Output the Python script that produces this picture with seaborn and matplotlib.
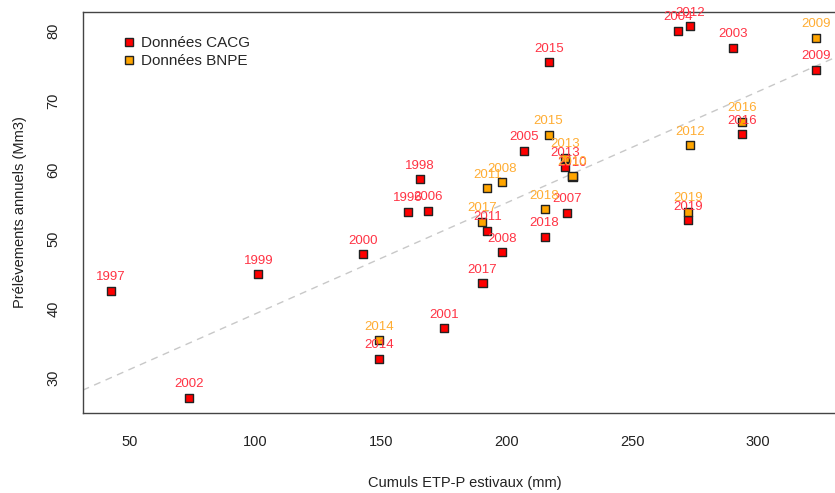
import matplotlib
matplotlib.use("Agg")
import matplotlib.pyplot as plt
import seaborn as sns
import pandas as pd
from matplotlib.lines import Line2D

# ---- data ----
cacg_years = [1996, 1997, 1998, 1999, 2000, 2001, 2002, 2003, 2004, 2005, 2006, 2007,
              2008, 2009, 2010, 2011, 2012, 2013, 2014, 2015, 2016, 2017, 2018, 2019]
cacg_x = [160.6, 42.6, 165.6, 101.2, 142.7, 175.2, 73.7, 290.0, 268.1, 206.9, 168.7, 224.0,
          198.0, 323.0, 226.2, 192.3, 273.0, 223.3, 149.1, 216.8, 293.8, 190.4, 215.1, 272.3]
cacg_y = [53.9, 42.5, 58.6, 44.9, 47.8, 37.1, 27.1, 77.6, 80.0, 62.7, 54.1, 53.8,
          48.1, 74.4, 59.0, 51.2, 80.7, 60.4, 32.7, 75.5, 65.1, 43.6, 50.3, 52.7]

bnpe_years = [2008, 2009, 2010, 2011, 2012, 2013, 2014, 2015, 2016, 2017, 2018, 2019]
bnpe_x = [198.0, 323.0, 226.2, 192.3, 273.0, 223.3, 149.1, 216.7, 293.7, 190.3, 215.1, 272.3]
bnpe_y = [58.2, 79.0, 59.1, 57.3, 63.5, 61.7, 35.4, 65.0, 66.9, 52.5, 54.3, 53.9]

series_names = ["Données CACG", "Données BNPE"]
fit_intercept = 23.17
fit_slope = 0.1603

x_ticks = [50, 100, 150, 200, 250, 300]
y_ticks = [30, 40, 50, 60, 70, 80]
x_label = "Cumuls ETP-P estivaux (mm)"
y_label = "Prélèvements annuels (Mm3)"

# ---- styling ----
sns.set_style("white")
plt.rcParams["font.family"] = ["Liberation Sans", "DejaVu Sans"]

marker_colors = {series_names[0]: "#ff0000", series_names[1]: "#ffa500"}
label_colors = {series_names[0]: "#ff3344", series_names[1]: "#ffad33"}
axis_color = "#444444"

df = pd.concat([
    pd.DataFrame({"x": cacg_x, "y": cacg_y, "year": cacg_years, "src": series_names[0]}),
    pd.DataFrame({"x": bnpe_x, "y": bnpe_y, "year": bnpe_years, "src": series_names[1]}),
], ignore_index=True)

fig = plt.figure(figsize=(8.35, 4.93), dpi=100)
ax = fig.add_axes([0.099, 0.1623, 0.915, 0.8134])

ax.axline((0, fit_intercept), slope=fit_slope, color="#c8c8c8", lw=1.0,
          ls=(0, (5, 4)), zorder=1)

sns.scatterplot(data=df, x="x", y="y", hue="src", palette=marker_colors,
                marker="s", s=34, edgecolor="#222222", linewidth=1.0,
                ax=ax, zorder=3, legend=False)

for _, r in df.iterrows():
    ax.annotate(str(r["year"]), (r["x"], r["y"]), xytext=(0, 5.5),
                textcoords="offset points", ha="center", va="bottom",
                fontsize=9.5, color=label_colors[r["src"]], zorder=4)

ax.set_xlim(31.3, 335.3)
ax.set_ylim(24.9, 82.75)
ax.set_xticks(x_ticks)
ax.set_yticks(y_ticks)
ax.set_xlabel(x_label, fontsize=10.5, color="#222222", labelpad=19)
ax.set_ylabel(y_label, fontsize=10.5, color="#222222", labelpad=14)
ax.tick_params(axis="both", direction="out", length=6, width=1, color=axis_color,
               labelsize=10.5, labelcolor="#222222", pad=10)
ax.tick_params(axis="y", labelrotation=90)
for lab in ax.get_yticklabels():
    lab.set_va("center")

for side in ["left", "bottom", "top"]:
    ax.spines[side].set_color(axis_color)
    ax.spines[side].set_linewidth(1.0)
ax.spines["right"].set_visible(False)

handles = [Line2D([], [], marker="s", ls="", markersize=5.5,
                  markerfacecolor=marker_colors[n], markeredgecolor="#222222",
                  markeredgewidth=1.0) for n in series_names]
ax.legend(handles, series_names, loc="upper left", bbox_to_anchor=(0.043, 0.955),
          frameon=False, fontsize=11, handletextpad=0.3, labelspacing=0.25,
          handlelength=1.0, borderaxespad=0)

fig.savefig("out.png", dpi=100)
